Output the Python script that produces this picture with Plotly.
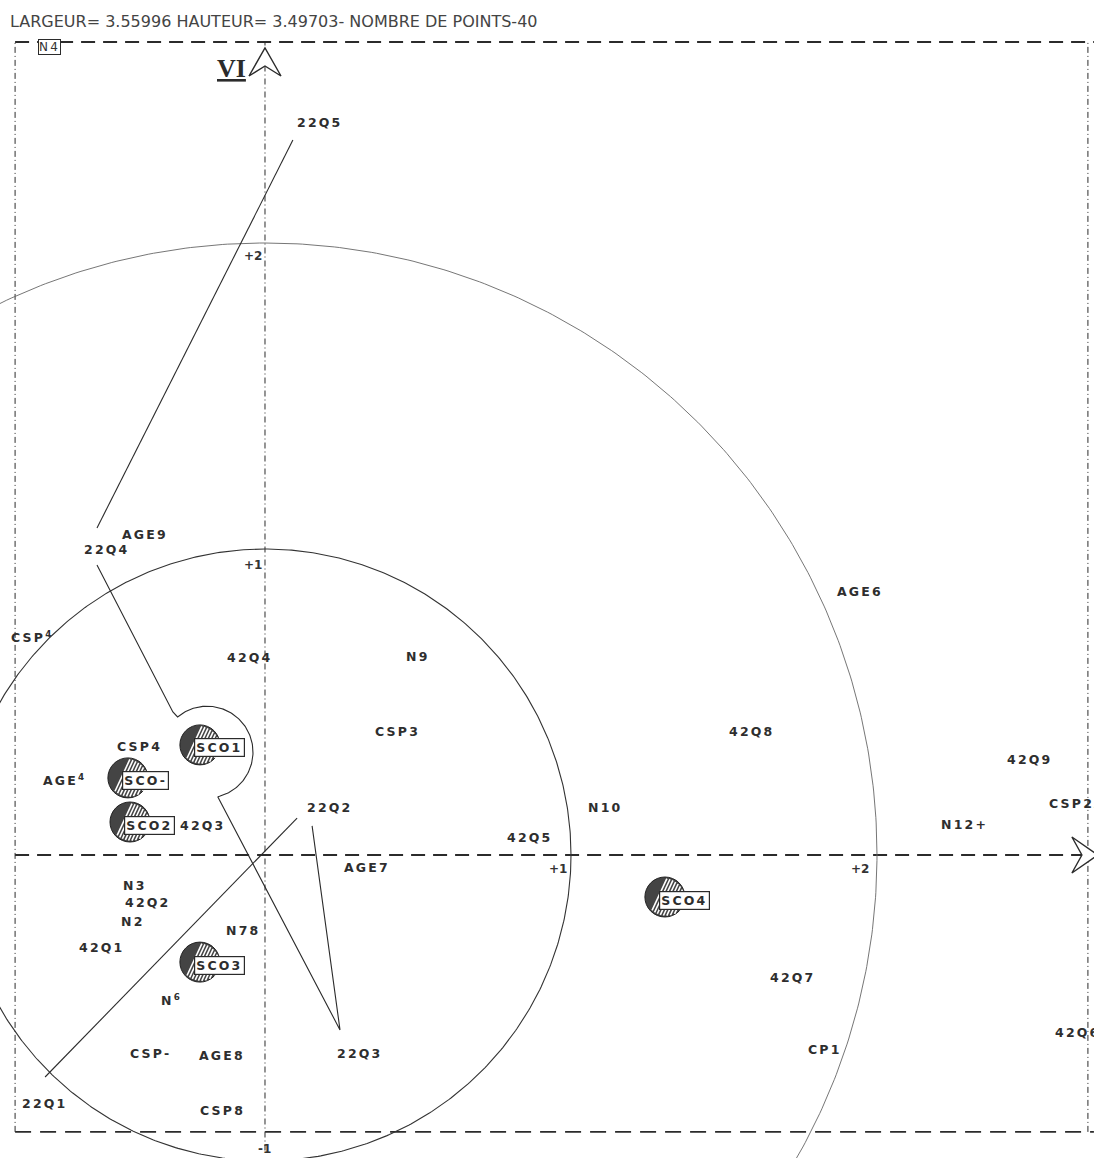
import numpy as np
import plotly.graph_objects as go

# ---------------- data (factor coordinates, axis I horizontal, axis VI vertical) ----
title_text = "LARGEUR= 3.55996 HAUTEUR= 3.49703- NOMBRE DE POINTS-40"

point_labels = ["22Q5", "AGE9", "22Q4", "CSP<sup>4</sup>", "42Q4", "N9", "AGE6", "CSP3",
                "42Q8", "CSP4", "AGE<sup>4</sup>", "42Q3", "42Q9", "N10", "22Q2", "N12+",
                "42Q5", "AGE7", "N3", "42Q2", "N2", "N78", "42Q1", "42Q7", "N<sup>6</sup>",
                "CSP-", "AGE8", "22Q3", "CP1", "22Q1", "CSP8"]
point_x = [0.183, -0.40, -0.527, -0.777, -0.05, 0.51, 1.983, 0.44,
           1.623, -0.417, -0.667, -0.207, 2.55, 1.133, 0.217, 2.333,
           0.883, 0.34, -0.433, -0.39, -0.44, -0.073, -0.543, 1.76, -0.31,
           -0.383, -0.143, 0.317, 1.867, -0.733, -0.143]
point_y = [2.443, 1.07, 1.017, 0.727, 0.66, 0.663, 0.877, 0.413,
           0.413, 0.363, 0.25, 0.10, 0.317, 0.157, 0.157, 0.103,
           0.057, -0.043, -0.10, -0.157, -0.22, -0.25, -0.307, -0.407, -0.483,
           -0.663, -0.667, -0.663, -0.647, -0.827, -0.85]

# points partly outside the right border (left-anchored, clipped as in the original)
edge_labels = ["CSP2A", "42Q6"]
edge_x = [2.607, 2.627]
edge_y = [0.173, -0.59]

# boxed point at the top-left corner
box_label = "N4"
box_x = -0.717
box_y = 2.693

# supplementary (hatched) points
sco_labels = ["SCO1", "SCO-", "SCO2", "SCO3", "SCO4"]
sco_x = [-0.217, -0.457, -0.45, -0.217, 1.333]
sco_y = [0.367, 0.257, 0.11, -0.357, -0.14]

# trajectory of 22Q1..22Q5
traj1_x = [0.093, -0.56]
traj1_y = [2.383, 1.09]
traj2_x = [-0.56, -0.307]
traj2_y = [0.967, 0.477]
loop_cx, loop_cy, loop_r = -0.193, 0.343, 0.153
loop_a0, loop_a1 = 130, -76
traj3_x = [-0.157, 0.25, 0.157]
traj3_y = [0.193, -0.583, 0.097]
traj4_x = [0.107, -0.733]
traj4_y = [0.123, -0.74]

circle_radii = [1.02, 2.04]

frame_x0, frame_x1 = -0.833, 2.743
frame_y0, frame_y1 = -0.923, 2.71
xr = [-0.8833, 2.7633]
yr = [-1.01, 2.85]

# ---------------------------------------------------------------------------------
W, H = 1094, 1158
sx = W / (xr[1] - xr[0])
sy = H / (yr[1] - yr[0])

fig = go.Figure()
ink = "#2b2b2b"
lab_font = dict(family="DejaVu Sans", size=12.5, color="#2e2e2e")
SP = '<span style="letter-spacing:2.2px">{}</span>'

def line(x, y, width=1.2, dash="solid", color=ink):
    fig.add_trace(go.Scatter(x=x, y=y, mode="lines", hoverinfo="skip",
                             line=dict(color=color, width=width, dash=dash),
                             showlegend=False))

# frame
line([frame_x0, frame_x1 + 0.02], [frame_y1, frame_y1], 1.8, "14px,8px")
line([frame_x0, frame_x1 + 0.02], [frame_y0, frame_y0], 1.8, "16px,9px")
line([frame_x0, frame_x0], [frame_y0, frame_y1], 1.0, "6px,3px,1px,3px")
line([frame_x1, frame_x1], [frame_y0, frame_y1], 1.0, "6px,3px,1px,3px")
# axes
line([frame_x0, frame_x1 - 0.01], [0, 0], 1.8, "14px,8px")
line([0, 0], [-0.985, frame_y1], 1.0, "6px,3px,1px,3px")

# circles
th = np.linspace(0, 2 * np.pi, 721)
for r, c, w in zip(circle_radii, ["#333333", "#666666"], [1.1, 0.9]):
    line(list(r * np.cos(th)), list(r * np.sin(th)), w, "solid", c)

# trajectory
line(traj1_x, traj1_y, 1.1)
ang = np.radians(np.linspace(loop_a0, loop_a1, 120))
lx = list(traj2_x) + list(loop_cx + loop_r * np.cos(ang)) + list(traj3_x)
ly = list(traj2_y) + list(loop_cy + loop_r * np.sin(ang)) + list(traj3_y)
line(lx, ly, 1.1)
line(traj4_x, traj4_y, 1.1)

# hatched circles
rad_px = 20
fig.add_trace(go.Scatter(x=sco_x, y=sco_y, mode="markers", hoverinfo="skip",
                         marker=dict(size=2 * rad_px, color="#444444",
                                     line=dict(color="#222222", width=1)),
                         showlegend=False))
hx, hy = [], []
for cx, cy in zip(sco_x, sco_y):
    for k in np.linspace(-0.3, 0.95, 9):
        off = k * rad_px
        half = np.sqrt(max(rad_px ** 2 - off ** 2, 0)) * 0.92
        dxp, dyp = np.cos(np.radians(65)), np.sin(np.radians(65))
        nxp, nyp = dyp, -dxp
        px0 = off * nxp - half * dxp
        py0 = off * nyp - half * dyp
        px1 = off * nxp + half * dxp
        py1 = off * nyp + half * dyp
        hx += [cx + px0 / sx, cx + px1 / sx, None]
        hy += [cy + py0 / sy, cy + py1 / sy, None]
line(hx, hy, 1.6, "solid", "white")

# arrow heads
def arrow_path(pts):
    return "M " + " L ".join(f"{x},{y}" for x, y in pts) + " Z"

ax_top = frame_y1 - 6 / sy
fig.add_shape(type="path", xref="x", yref="y",
              path=arrow_path([(-16 / sx, ax_top - 28 / sy), (0, ax_top),
                               (16 / sx, ax_top - 28 / sy), (0, ax_top - 18 / sy)]),
              line=dict(color=ink, width=1.4), fillcolor="white")
ax_right = frame_x1 + 10 / sx
fig.add_shape(type="path", xref="x", yref="y",
              path=arrow_path([(ax_right - 26 / sx, 18 / sy), (ax_right, 0),
                               (ax_right - 26 / sx, -18 / sy), (ax_right - 16 / sx, 0)]),
              line=dict(color=ink, width=1.4), fillcolor="white")

anns = []
serif = dict(family="Liberation Serif", size=26, color=ink)
anns.append(dict(x=0, y=ax_top, text="<b><u>VI</u></b>", xanchor="right", yanchor="top",
                 xshift=-17, yshift=-4, font=serif))
anns.append(dict(x=ax_right, y=0, text="I", xanchor="center", yanchor="top",
                 xshift=-20, yshift=-14, font=serif))

tick_font = dict(family="DejaVu Sans", size=12, color="#333333")
anns.append(dict(x=0, y=2, text="<b>+2</b>", xanchor="right", yanchor="middle", xshift=-1, yshift=-1, font=tick_font))
anns.append(dict(x=0, y=1, text="<b>+1</b>", xanchor="right", yanchor="top", xshift=-1, yshift=-1, font=tick_font))
anns.append(dict(x=1, y=0, text="<b>+1</b>", xanchor="right", yanchor="top", xshift=4, yshift=-5, font=tick_font))
anns.append(dict(x=2, y=0, text="<b>+2</b>", xanchor="center", yanchor="top", xshift=-5, yshift=-5, font=tick_font))
anns.append(dict(x=0, y=-1, text="<b>-1</b>", xanchor="center", yanchor="middle", xshift=0, yshift=6, font=tick_font))

for t, x, y in zip(point_labels, point_x, point_y):
    anns.append(dict(x=x, y=y, text="<b>" + SP.format(t) + "</b>", xanchor="center",
                     yanchor="middle", font=lab_font))
for t, x, y in zip(edge_labels, edge_x, edge_y):
    anns.append(dict(x=x, y=y, text="<b>" + SP.format(t) + "</b>", xanchor="left",
                     yanchor="middle", font=lab_font))
anns.append(dict(x=box_x, y=box_y, text=SP.format(box_label), xanchor="center", yanchor="middle",
                 font=dict(family="DejaVu Sans", size=12, color="#333333"),
                 bordercolor=ink, borderwidth=1, borderpad=0, bgcolor="white"))
for t, x, y in zip(sco_labels, sco_x, sco_y):
    anns.append(dict(x=x, y=y, text="<b>" + SP.format(t) + "</b>", xanchor="left", yanchor="middle",
                     xshift=-6, yshift=-3, font=lab_font,
                     bordercolor=ink, borderwidth=1.2, borderpad=1, bgcolor="white"))

anns.append(dict(xref="paper", yref="paper", x=0, y=1, text=title_text,
                 xanchor="left", yanchor="top", xshift=8, yshift=-10,
                 font=dict(family="DejaVu Sans", size=16, color="#444444")))

for a in anns:
    a["showarrow"] = False
fig.update_layout(annotations=anns)

fig.update_layout(width=W, height=H, margin=dict(l=0, r=0, t=0, b=0),
                  paper_bgcolor="white", plot_bgcolor="white", showlegend=False,
                  xaxis=dict(range=xr, visible=False, fixedrange=True),
                  yaxis=dict(range=yr, visible=False, fixedrange=True))
fig.write_html("out.html")
